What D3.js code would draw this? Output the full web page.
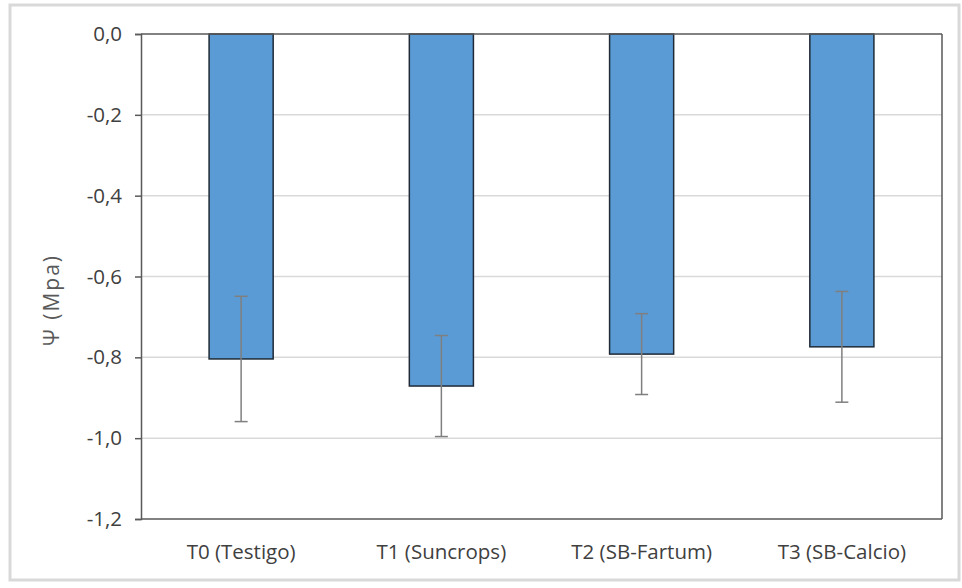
<!DOCTYPE html>
<html>
<head>
<meta charset="utf-8">
<script src="https://cdn.jsdelivr.net/npm/d3@7"></script>
<style>
  html, body { margin: 0; padding: 0; background: #fff; }
  svg { display: block; }
</style>
</head>
<body>
<svg id="chart" width="962" height="588"></svg>
<script>
// Water potential by treatment (mean and standard deviation)
const categories = ["T0 (Testigo)", "T1 (Suncrops)", "T2 (SB-Fartum)", "T3 (SB-Calcio)"];
const means = [-0.804, -0.871, -0.792, -0.774];
const errors = [0.155, 0.125, 0.100, 0.137];
const yTicks = [0, -0.2, -0.4, -0.6, -0.8, -1.0, -1.2];
const yTitle = "\u03A8 (Mpa)";

const svg = d3.select("#chart");
const W = 962, H = 588;
const margin = { left: 141, right: 20, top: 34, bottom: 69 };
const plotW = W - margin.left - margin.right;
const plotH = H - margin.top - margin.bottom;
const font = "'Open Sans', 'Liberation Sans', sans-serif";

// outer chart frame
svg.append("rect")
  .attr("x", 10).attr("y", 5).attr("width", 949).attr("height", 575)
  .attr("fill", "#fff").attr("stroke", "#d9d9d9").attr("stroke-width", 3);

const g = svg.append("g").attr("transform", `translate(${margin.left},${margin.top})`);

const x = d3.scaleBand().domain(categories).range([0, plotW]).paddingInner(0.68).paddingOuter(0.34);
const y = d3.scaleLinear().domain([-1.2, 0]).range([plotH, 0]);

// horizontal gridlines
g.append("g")
  .selectAll("line")
  .data(yTicks.filter(t => t !== 0 && t !== -1.2))
  .join("line")
  .attr("x1", 0).attr("x2", plotW)
  .attr("y1", d => y(d)).attr("y2", d => y(d))
  .attr("stroke", "#d9d9d9").attr("stroke-width", 1.5);

// bars
g.append("g")
  .selectAll("rect")
  .data(categories)
  .join("rect")
  .attr("x", d => x(d))
  .attr("width", x.bandwidth())
  .attr("y", y(0))
  .attr("height", (d, i) => y(means[i]) - y(0))
  .attr("fill", "#5b9bd5")
  .attr("stroke", "#1f2a36")
  .attr("stroke-width", 1.5);

// error bars
const eb = g.append("g").attr("stroke", "#7f7f7f").attr("stroke-width", 1.5);
categories.forEach((c, i) => {
  const cx = x(c) + x.bandwidth() / 2;
  const top = y(means[i] + errors[i]);
  const bot = y(means[i] - errors[i]);
  eb.append("line").attr("x1", cx).attr("x2", cx).attr("y1", top).attr("y2", bot);
  eb.append("line").attr("x1", cx - 6.5).attr("x2", cx + 6.5).attr("y1", top).attr("y2", top);
  eb.append("line").attr("x1", cx - 6.5).attr("x2", cx + 6.5).attr("y1", bot).attr("y2", bot);
});

// plot area border (right and bottom)
g.append("line").attr("x1", 0).attr("x2", plotW).attr("y1", plotH).attr("y2", plotH)
  .attr("stroke", "#595959").attr("stroke-width", 1.5);
g.append("line").attr("x1", plotW).attr("x2", plotW).attr("y1", 0).attr("y2", plotH)
  .attr("stroke", "#595959").attr("stroke-width", 1.5);

// category axis at zero
g.append("line").attr("x1", 0).attr("x2", plotW).attr("y1", y(0)).attr("y2", y(0))
  .attr("stroke", "#595959").attr("stroke-width", 1.5);

// value axis
const fmt = d => d3.format(".1f")(d).replace("\u2212", "-").replace(".", ",");
const yAxis = g.append("g")
  .call(d3.axisLeft(y).tickValues(yTicks).tickSize(6).tickPadding(13).tickFormat(fmt));
yAxis.select(".domain").attr("stroke", "#595959").attr("stroke-width", 1.5);
yAxis.selectAll(".tick line").attr("stroke", "#595959").attr("stroke-width", 1.5);
yAxis.selectAll(".tick text")
  .attr("fill", "#404040").attr("font-family", font).attr("font-size", 20.5);

// category labels
g.append("g")
  .selectAll("text")
  .data(categories)
  .join("text")
  .attr("x", d => x(d) + x.bandwidth() / 2)
  .attr("y", plotH + 40)
  .attr("text-anchor", "middle")
  .attr("fill", "#404040")
  .attr("font-family", font)
  .attr("font-size", 20.5)
  .text(d => d);

// value axis title
svg.append("text")
  .attr("transform", "translate(59,300) rotate(-90)")
  .attr("text-anchor", "middle")
  .attr("fill", "#595959")
  .attr("font-family", font)
  .attr("font-size", 21)
  .attr("letter-spacing", 2)
  .text(yTitle);
</script>
</body>
</html>
